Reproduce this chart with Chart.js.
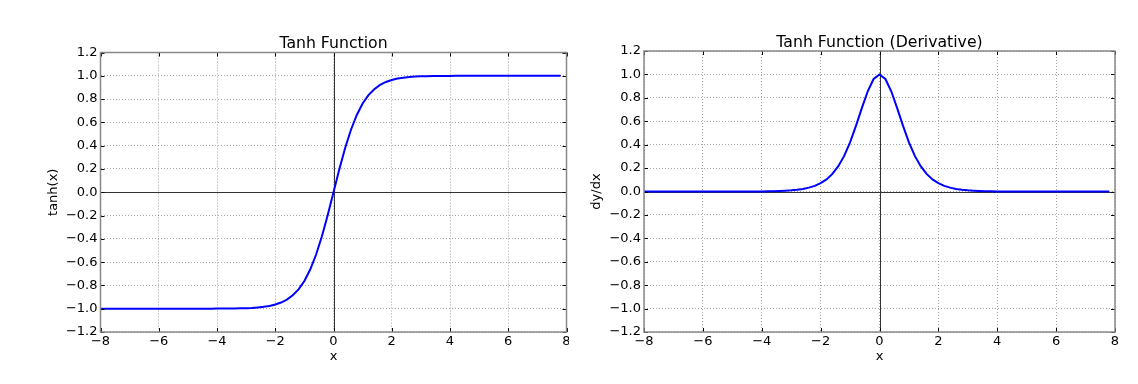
<!DOCTYPE html>
<html><head><meta charset="utf-8">
<script src="https://cdn.jsdelivr.net/npm/chart.js@4.4.1/dist/chart.umd.min.js"></script>
<style>
html,body{margin:0;padding:0;background:#fff;}
#wrap{position:relative;width:1138px;height:384px;background:#fff;}
.box{position:absolute;top:0;height:384px;}
canvas{display:block;}
</style></head><body>
<div id="wrap">
<div class="box" style="left:0;width:569px"><canvas id="c1" width="569" height="384"></canvas></div>
<div class="box" style="left:569px;width:569px"><canvas id="c2" width="569" height="384"></canvas></div>
</div>
<script>
const xValues = [-8,-7.8,-7.6,-7.4,-7.2,-7,-6.8,-6.6,-6.4,-6.2,-6,-5.8,-5.6,-5.4,-5.2,-5,-4.8,-4.6,-4.4,-4.2,
  -4,-3.8,-3.6,-3.4,-3.2,-3,-2.8,-2.6,-2.4,-2.2,-2,-1.8,-1.6,-1.4,-1.2,-1,-0.8,-0.6,-0.4,-0.2,
  0,0.2,0.4,0.6,0.8,1,1.2,1.4,1.6,1.8,2,2.2,2.4,2.6,2.8,3,3.2,3.4,3.6,3.8,
  4,4.2,4.4,4.6,4.8,5,5.2,5.4,5.6,5.8,6,6.2,6.4,6.6,6.8,7,7.2,7.4,7.6,7.8];
const tanhValues = [-1,-1,-1,-1,-1,-1,-1,-1,-1,-1,-1,-1,-1,-1,-1,-1,-1,-1,-1,-1,
  -0.999,-0.999,-0.999,-0.998,-0.997,-0.995,-0.993,-0.989,-0.984,-0.976,-0.964,-0.947,-0.922,-0.885,-0.834,-0.762,-0.664,-0.537,-0.380,-0.197,
  0,0.197,0.380,0.537,0.664,0.762,0.834,0.885,0.922,0.947,0.964,0.976,0.984,0.989,0.993,0.995,0.997,0.998,0.999,0.999,
  0.999,1,1,1,1,1,1,1,1,1,1,1,1,1,1,1,1,1,1,1];
const derivValues = [0,0,0,0,0,0,0,0,0,0,0,0,0,0,0,0,0,0,0.001,0.001,
  0.001,0.002,0.003,0.005,0.007,0.010,0.015,0.022,0.033,0.048,0.071,0.103,0.150,0.216,0.304,0.420,0.560,0.712,0.856,0.961,
  1.000,0.961,0.856,0.712,0.560,0.420,0.304,0.216,0.150,0.103,0.071,0.048,0.033,0.022,0.015,0.010,0.007,0.005,0.003,0.002,
  0.001,0.001,0.001,0,0,0,0,0,0,0,0,0,0,0,0,0,0,0,0,0];
const xTicks = [-8,-6,-4,-2,0,2,4,6,8];
const yTicks = [-1.2,-1.0,-0.8,-0.6,-0.4,-0.2,0.0,0.2,0.4,0.6,0.8,1.0,1.2];
const titles = ['Tanh Function','Tanh Function (Derivative)'];
const yTitles = ['tanh(x)','dy/dx'];
const xTitle = 'x';

const FONT = 'DejaVu Sans';

const framePlugin = {
  id: 'frame',
  beforeDatasetsDraw(chart) {
    const {ctx, chartArea: a, scales: {x, y}} = chart;
    ctx.save();
    ctx.strokeStyle = '#333';
    ctx.lineWidth = 1;
    ctx.beginPath();
    const px = Math.round(x.getPixelForValue(0)) + 0.5;
    const py = Math.round(y.getPixelForValue(0)) + 0.5;
    ctx.moveTo(px, a.top); ctx.lineTo(px, a.bottom);
    ctx.moveTo(a.left, py); ctx.lineTo(a.right, py);
    ctx.stroke();
    ctx.restore();
  },
  afterDraw(chart, args, opts) {
    const {ctx, chartArea: a, scales: {x, y}} = chart;
    ctx.save();
    ctx.strokeStyle = '#000';
    ctx.lineWidth = 1;
    ctx.beginPath();
    const L = 4;
    xTicks.forEach(v => {
      const p = Math.round(x.getPixelForValue(v)) + 0.5;
      ctx.moveTo(p, a.bottom); ctx.lineTo(p, a.bottom - L);
      ctx.moveTo(p, a.top); ctx.lineTo(p, a.top + L);
    });
    yTicks.forEach(v => {
      const p = Math.round(y.getPixelForValue(v)) + 0.5;
      ctx.moveTo(a.left, p); ctx.lineTo(a.left + L, p);
      ctx.moveTo(a.right, p); ctx.lineTo(a.right - L, p);
    });
    ctx.stroke();
    ctx.strokeStyle = '#888';
    ctx.lineWidth = 1.5;
    ctx.strokeRect(a.left, a.top, a.right - a.left, a.bottom - a.top);
    // title centred over the plot area
    ctx.fillStyle = '#000';
    ctx.font = '15.7px "' + FONT + '"';
    ctx.textAlign = 'center';
    ctx.textBaseline = 'alphabetic';
    ctx.fillText(opts.text, (a.left + a.right) / 2, opts.baseline);
    ctx.restore();
  }
};

function makeChart(id, yData, idx, yWidth, padRight, padTop, yTitlePad, titleBase) {
  const ctx = document.getElementById(id).getContext('2d');
  return new Chart(ctx, {
    type: 'line',
    data: {
      datasets: [{
        data: xValues.map((v, i) => ({x: v, y: yData[i]})),
        borderColor: '#0000ff',
        borderWidth: 2,
        pointRadius: 0,
        tension: 0,
        fill: false
      }]
    },
    options: {
      responsive: false,
      devicePixelRatio: 1,
      animation: false,
      layout: {padding: {left: 0, right: padRight, top: padTop, bottom: 0}},
      plugins: {
        legend: {display: false},
        tooltip: {enabled: false},
        title: {display: false},
        frame: {text: titles[idx], baseline: titleBase}
      },
      scales: {
        x: {
          type: 'linear',
          min: -8, max: 8,
          afterBuildTicks: s => { s.ticks = xTicks.map(v => ({value: v})); },
          afterFit: s => { s.height = 52; s.paddingLeft = 0; s.paddingRight = 0; },
          grid: {color: 'rgba(0,0,0,0.45)', lineWidth: 0.8, drawTicks: false},
          border: {display: false, dash: [1, 2]},
          ticks: {
            color: '#000', padding: 2, maxRotation: 0, autoSkip: false,
            font: {family: FONT, size: 13},
            callback: v => String(v).replace('-', '\u2212')
          },
          title: {display: true, text: xTitle, color: '#000',
            font: {family: FONT, size: 13}, padding: {top: 0, bottom: 20}}
        },
        y: {
          type: 'linear',
          min: -1.2, max: 1.2,
          afterBuildTicks: s => { s.ticks = yTicks.map(v => ({value: v})); },
          afterFit: s => { s.width = yWidth; s.paddingTop = 0; s.paddingBottom = 0; },
          grid: {color: 'rgba(0,0,0,0.45)', lineWidth: 0.8, drawTicks: false},
          border: {display: false, dash: [1, 2]},
          ticks: {
            color: '#000', padding: 3, autoSkip: false,
            font: {family: FONT, size: 13},
            callback: v => Number(v).toFixed(1).replace('-', '\u2212')
          },
          title: {display: true, text: yTitles[idx], color: '#000',
            font: {family: FONT, size: 13}, padding: {top: yTitlePad, bottom: 0}}
        }
      }
    },
    plugins: [framePlugin]
  });
}

makeChart('c1', tanhValues, 0, 100.5, 2.5, 52.5, 46, 48);
makeChart('c2', derivValues, 1, 75, 23, 51, 20, 47);
</script>
</body></html>
